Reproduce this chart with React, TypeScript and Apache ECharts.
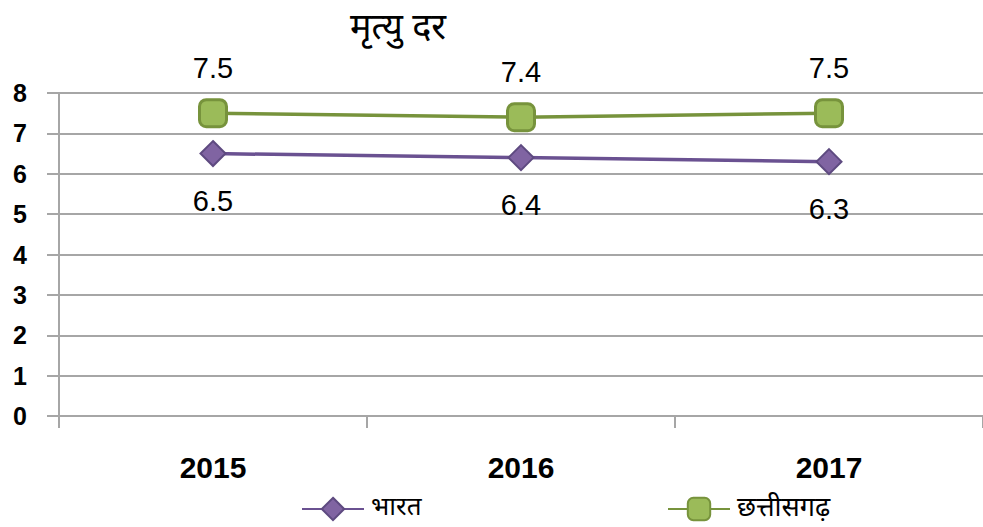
import React, { useEffect, useRef } from "react";
import * as echarts from "echarts";

const years = ["2015", "2016", "2017"];
const bharat = [6.5, 6.4, 6.3];
const chhattisgarh = [7.5, 7.4, 7.5];
const seriesNames = ["भारत", "छत्तीसगढ़"];
const titleText = "मृत्यु दर";

const DEVA = '"Noto Sans Devanagari", "Lohit Devanagari", "Noto Sans", "DejaVu Sans", sans-serif';

export default function App() {
  const ref = useRef<HTMLDivElement>(null);
  useEffect(() => {
    if (!ref.current) return;
    const chart = echarts.init(ref.current, null, { renderer: "svg" });
    const gridColor = "#a6a6a6";
    chart.setOption({
      animation: false,
      backgroundColor: "#ffffff",
      graphic: [
        {
          type: "text",
          x: 398,
          y: 30,
          style: {
            text: titleText,
            fontSize: 36,
            fontFamily: DEVA,
            fill: "#000",
            textAlign: "center",
            textVerticalAlign: "middle",
          },
        },
      ],
      grid: { left: 59, right: -8, top: 93, bottom: 111 },
      legend: [
        {
          data: [seriesNames[0]],
          left: 296,
          top: 490,
          itemWidth: 62,
          itemHeight: 28,
          itemGap: 6,
          textStyle: { fontSize: 26, lineHeight: 28, fontFamily: DEVA, color: "#000", padding: [0, 0, 0, 2] },
        },
        {
          data: [seriesNames[1]],
          left: 662,
          top: 490,
          itemWidth: 62,
          itemHeight: 28,
          textStyle: { fontSize: 27, lineHeight: 28, fontFamily: DEVA, color: "#000", padding: [0, 0, 0, 2] },
        },
      ],
      xAxis: {
        type: "category",
        data: years,
        boundaryGap: true,
        axisLine: { lineStyle: { color: gridColor, width: 2 } },
        axisTick: { show: true, length: 12, lineStyle: { color: gridColor, width: 2 } },
        axisLabel: {
          margin: 36,
          fontSize: 30,
          fontWeight: "bold",
          fontFamily: '"Liberation Sans", Arial, sans-serif',
          color: "#000",
        },
        splitLine: { show: false },
      },
      yAxis: {
        type: "value",
        min: 0,
        max: 8,
        interval: 1,
        axisLine: { show: true, lineStyle: { color: gridColor, width: 2 } },
        axisTick: { show: true, length: 12, lineStyle: { color: gridColor, width: 2 } },
        axisLabel: {
          margin: 32,
          fontSize: 25,
          fontWeight: "bold",
          fontFamily: '"Liberation Sans", Arial, sans-serif',
          color: "#000",
        },
        splitLine: { show: true, lineStyle: { color: gridColor, width: 2 } },
      },
      series: [
        {
          name: seriesNames[0],
          type: "line",
          data: bharat,
          symbol: "diamond",
          symbolSize: 25,
          lineStyle: { color: "#6a5191", width: 3.5 },
          itemStyle: { color: "#8064a2", borderColor: "#5e4a80", borderWidth: 2 },
          label: {
            show: true,
            position: "bottom",
            distance: 19,
            fontSize: 29,
            fontFamily: '"Liberation Sans", Arial, sans-serif',
            color: "#000",
            formatter: (p: any) => p.value.toFixed(1),
          },
          z: 3,
        },
        {
          name: seriesNames[1],
          type: "line",
          data: chhattisgarh,
          symbol: "roundRect",
          symbolSize: 27,
          lineStyle: { color: "#77933c", width: 3.5 },
          itemStyle: { color: "#9bbb59", borderColor: "#77933c", borderWidth: 3 },
          label: {
            show: true,
            position: "top",
            distance: 16,
            fontSize: 29,
            fontFamily: '"Liberation Sans", Arial, sans-serif',
            color: "#000",
            formatter: (p: any) => p.value.toFixed(1),
          },
          z: 3,
        },
      ],
    });
    return () => chart.dispose();
  }, []);
  return (
    <div
      ref={ref}
      style={{ position: "absolute", left: 0, top: 0, width: 983, height: 527 }}
    />
  );
}
